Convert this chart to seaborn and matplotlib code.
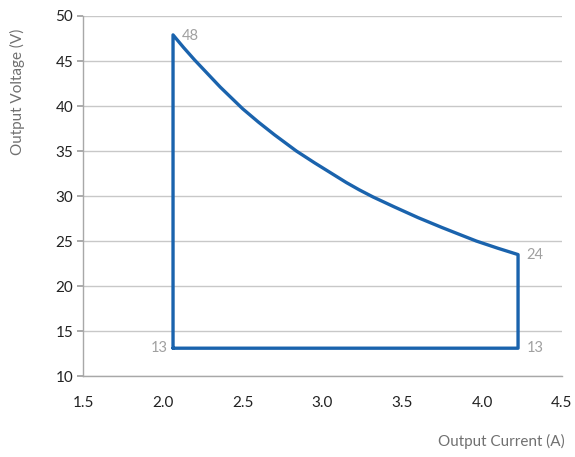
import matplotlib
matplotlib.use("Agg")
import matplotlib.pyplot as plt
import pandas as pd
import seaborn as sns

# operating envelope (current A, voltage V)
current = [2.064, 2.064, 2.13, 2.20, 2.28, 2.36, 2.43, 2.50, 2.60, 2.70, 2.837, 2.95, 3.05,
           3.15, 3.23, 3.317, 3.45, 3.60, 3.75, 3.85, 3.965, 4.10, 4.226, 4.226, 2.064]
voltage = [13.1, 47.9, 46.5, 45.1, 43.6, 42.1, 40.9, 39.7, 38.2, 36.8, 35.0, 33.7, 32.6,
           31.5, 30.7, 29.9, 28.8, 27.6, 26.5, 25.8, 25.0, 24.2, 23.5, 13.1, 13.1]

labels = ["48", "24", "13", "13"]
label_x = [2.12, 4.28, 2.03, 4.28]
label_y = [47.8, 23.5, 13.1, 13.1]
label_ha = ["left", "left", "right", "left"]

df = pd.DataFrame({"current": current, "voltage": voltage})

sns.set_theme(style="white")
plt.rcParams["font.family"] = ["Lato", "DejaVu Sans"]

fig = plt.figure(figsize=(5.75, 4.57), dpi=100)
ax = fig.add_axes([0.1444, 0.177, 0.8326, 0.788])

sns.lineplot(data=df, x="current", y="voltage", sort=False, estimator=None,
             color="#1a63ad", linewidth=2.4, solid_joinstyle="round", ax=ax)

for t, x, y, ha in zip(labels, label_x, label_y, label_ha):
    ax.text(x, y, t, color="#a0a0a0", fontsize=10.5, ha=ha, va="center")

ax.set_xlim(1.5, 4.5)
ax.set_ylim(10, 50)
ax.set_xticks([1.5, 2.0, 2.5, 3.0, 3.5, 4.0, 4.5])
ax.set_yticks(range(10, 51, 5))
ax.set_xticklabels(["1.5", "2.0", "2.5", "3.0", "3.5", "4.0", "4.5"])
ax.yaxis.grid(True, color="#c8c8c8", linewidth=1)
ax.set_axisbelow(True)
ax.tick_params(axis="y", left=True, length=4, color="#a0a0a0", labelsize=11, labelcolor="#222222", pad=3)
ax.tick_params(axis="x", bottom=False, labelsize=11, labelcolor="#222222", pad=8)
for s in ["top", "right"]:
    ax.spines[s].set_visible(False)
for s in ["left", "bottom"]:
    ax.spines[s].set_color("#a8a8a8")
    ax.spines[s].set_linewidth(1)

ax.set_xlabel("")
ax.set_ylabel("")
fig.text(0.031, 0.80, "Output Voltage (V)", rotation=90, ha="center", va="center",
         color="#707070", fontsize=11)
fig.text(0.983, 0.035, "Output Current (A)", ha="right", va="center",
         color="#707070", fontsize=11)

plt.savefig("out.png", dpi=100)
plt.close()
